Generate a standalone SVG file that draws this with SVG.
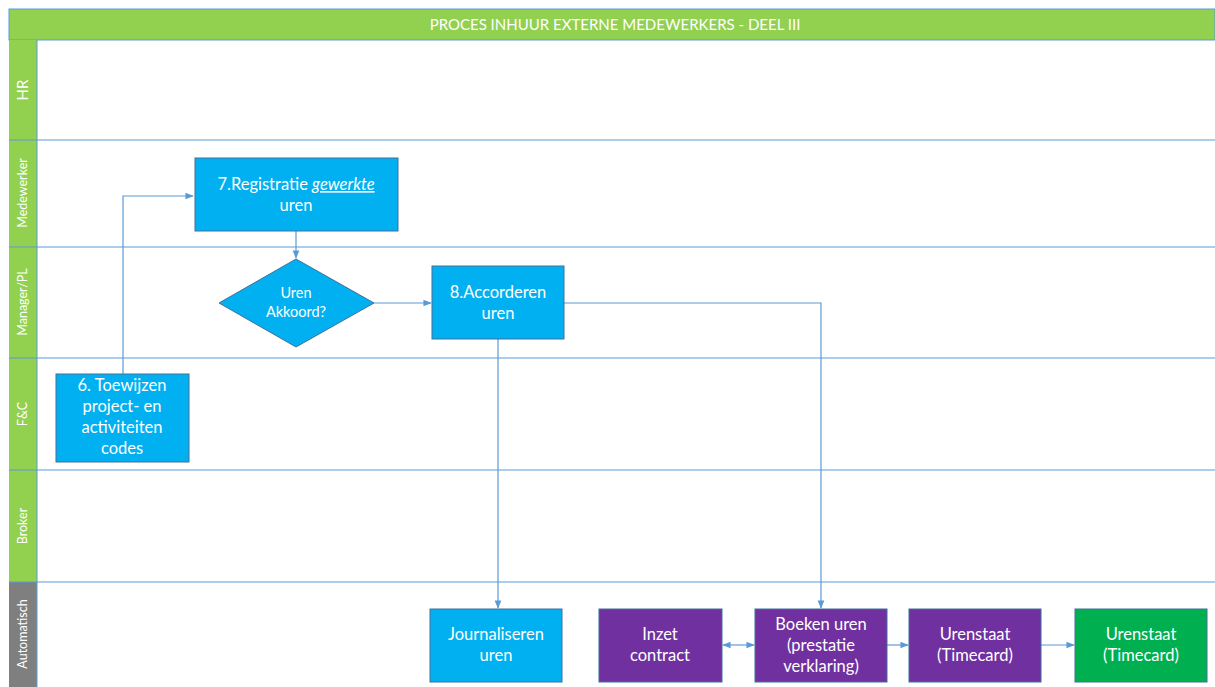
<svg xmlns="http://www.w3.org/2000/svg" width="1215" height="687" viewBox="0 0 1215 687">
<defs>
<style>
.lanebg{fill:#92d050;}
.line{stroke:#5b9bd5;stroke-width:1;fill:none;}
.lbl{fill:#ffffff;font-family:Lato,"Liberation Sans",sans-serif;font-size:12.5px;text-anchor:middle;}
.t{fill:#ffffff;font-family:Lato,"Liberation Sans",sans-serif;font-size:16.5px;text-anchor:middle;}
.ts{fill:#ffffff;font-family:Lato,"Liberation Sans",sans-serif;font-size:14.5px;text-anchor:middle;}
.blue{fill:#00b0f0;stroke:#41719c;stroke-width:1;}
.purple{fill:#7030a0;stroke:#41719c;stroke-width:1;}
.green{fill:#00b050;stroke:#41719c;stroke-width:1;}
.conn{stroke:#5b9bd5;stroke-width:1.2;fill:none;}
</style>
<marker id="arr" viewBox="0 0 10 10" refX="9" refY="5" markerWidth="7" markerHeight="7" orient="auto-start-reverse">
<path d="M0,1 L10,5 L0,9 z" fill="#5b9bd5"/>
</marker>
</defs>
<rect x="0" y="0" width="1215" height="687" fill="#ffffff"/>
<g id="title">
<rect x="9" y="9" width="1206" height="31" class="lanebg" stroke="#5b9bd5" stroke-width="1"/>
<text x="615" y="30" fill="#ffffff" font-family="Lato,'Liberation Sans',sans-serif" font-size="15" text-anchor="middle">PROCES INHUUR EXTERNE MEDEWERKERS - DEEL III</text>
</g>
<g id="lanes">
<rect x="9" y="40" width="28" height="542" class="lanebg"/>
<rect x="9" y="582" width="28" height="105" fill="#7f7f7f"/>
<line x1="9" y1="140" x2="1215" y2="140" class="line"/>
<line x1="9" y1="247" x2="1215" y2="247" class="line"/>
<line x1="9" y1="358" x2="1215" y2="358" class="line"/>
<line x1="9" y1="470" x2="1215" y2="470" class="line"/>
<line x1="9" y1="582" x2="1215" y2="582" class="line"/>
<line x1="37" y1="40" x2="37" y2="687" class="line"/>
<text class="lbl" style="font-size:15px" transform="translate(28,90) rotate(-90)">HR</text>
<text class="lbl" transform="translate(27,193) rotate(-90)">Medewerker</text>
<text class="lbl" transform="translate(27,302) rotate(-90)">Manager/PL</text>
<text class="lbl" transform="translate(27,414) rotate(-90)">F&amp;C</text>
<text class="lbl" transform="translate(27,526) rotate(-90)">Broker</text>
<text class="lbl" transform="translate(27,634) rotate(-90)">Automatisch</text>
</g>
<g id="connectors">
<path d="M123,374 V196 H193" class="conn" marker-end="url(#arr)"/>
<path d="M296,231 V258" class="conn" marker-end="url(#arr)"/>
<path d="M374,303 H431" class="conn" marker-end="url(#arr)"/>
<path d="M564,303 H821 V608" class="conn" marker-end="url(#arr)"/>
<path d="M498,339 V608" class="conn" marker-end="url(#arr)"/>
<path d="M723,645 H754" class="conn" marker-start="url(#arr)" marker-end="url(#arr)"/>
<path d="M887,645 H908" class="conn" marker-end="url(#arr)"/>
<path d="M1041,645 H1074" class="conn" marker-end="url(#arr)"/>
</g>
<g id="n7">
<rect x="195" y="158" width="203" height="73" class="blue"/>
<text class="t" x="296" y="190">7.Registratie <tspan font-style="italic" text-decoration="underline">gewerkte</tspan></text>
<text class="t" x="296" y="211">uren</text>
</g>
<g id="decision">
<polygon points="296,259 374,303 296,347 219,303" class="blue"/>
<text class="ts" x="296" y="298">Uren</text>
<text class="ts" x="296" y="317">Akkoord?</text>
</g>
<g id="n8">
<rect x="432" y="266" width="132" height="73" class="blue"/>
<text class="t" x="498" y="298">8.Accorderen</text>
<text class="t" x="498" y="319">uren</text>
</g>
<g id="n6">
<rect x="56" y="374" width="133" height="88" class="blue"/>
<text class="t" x="122" y="391">6. Toewijzen</text>
<text class="t" x="122" y="412">project- en</text>
<text class="t" x="122" y="433">activiteiten</text>
<text class="t" x="122" y="454">codes</text>
</g>
<g id="journaliseren">
<rect x="430" y="609" width="132" height="73" class="blue"/>
<text class="t" x="496" y="640">Journaliseren</text>
<text class="t" x="496" y="661">uren</text>
</g>
<g id="inzet">
<rect x="599" y="609" width="123" height="73" class="purple"/>
<text class="t" x="660" y="640">Inzet</text>
<text class="t" x="660" y="661">contract</text>
</g>
<g id="boeken">
<rect x="755" y="609" width="132" height="73" class="purple"/>
<text class="t" x="821" y="630">Boeken uren</text>
<text class="t" x="821" y="651">(prestatie</text>
<text class="t" x="821" y="672">verklaring)</text>
</g>
<g id="urenstaat1">
<rect x="909" y="609" width="132" height="73" class="purple"/>
<text class="t" x="975" y="640">Urenstaat</text>
<text class="t" x="975" y="661">(Timecard)</text>
</g>
<g id="urenstaat2">
<rect x="1075" y="609" width="132" height="73" class="green"/>
<text class="t" x="1141" y="640">Urenstaat</text>
<text class="t" x="1141" y="661">(Timecard)</text>
</g>
</svg>
